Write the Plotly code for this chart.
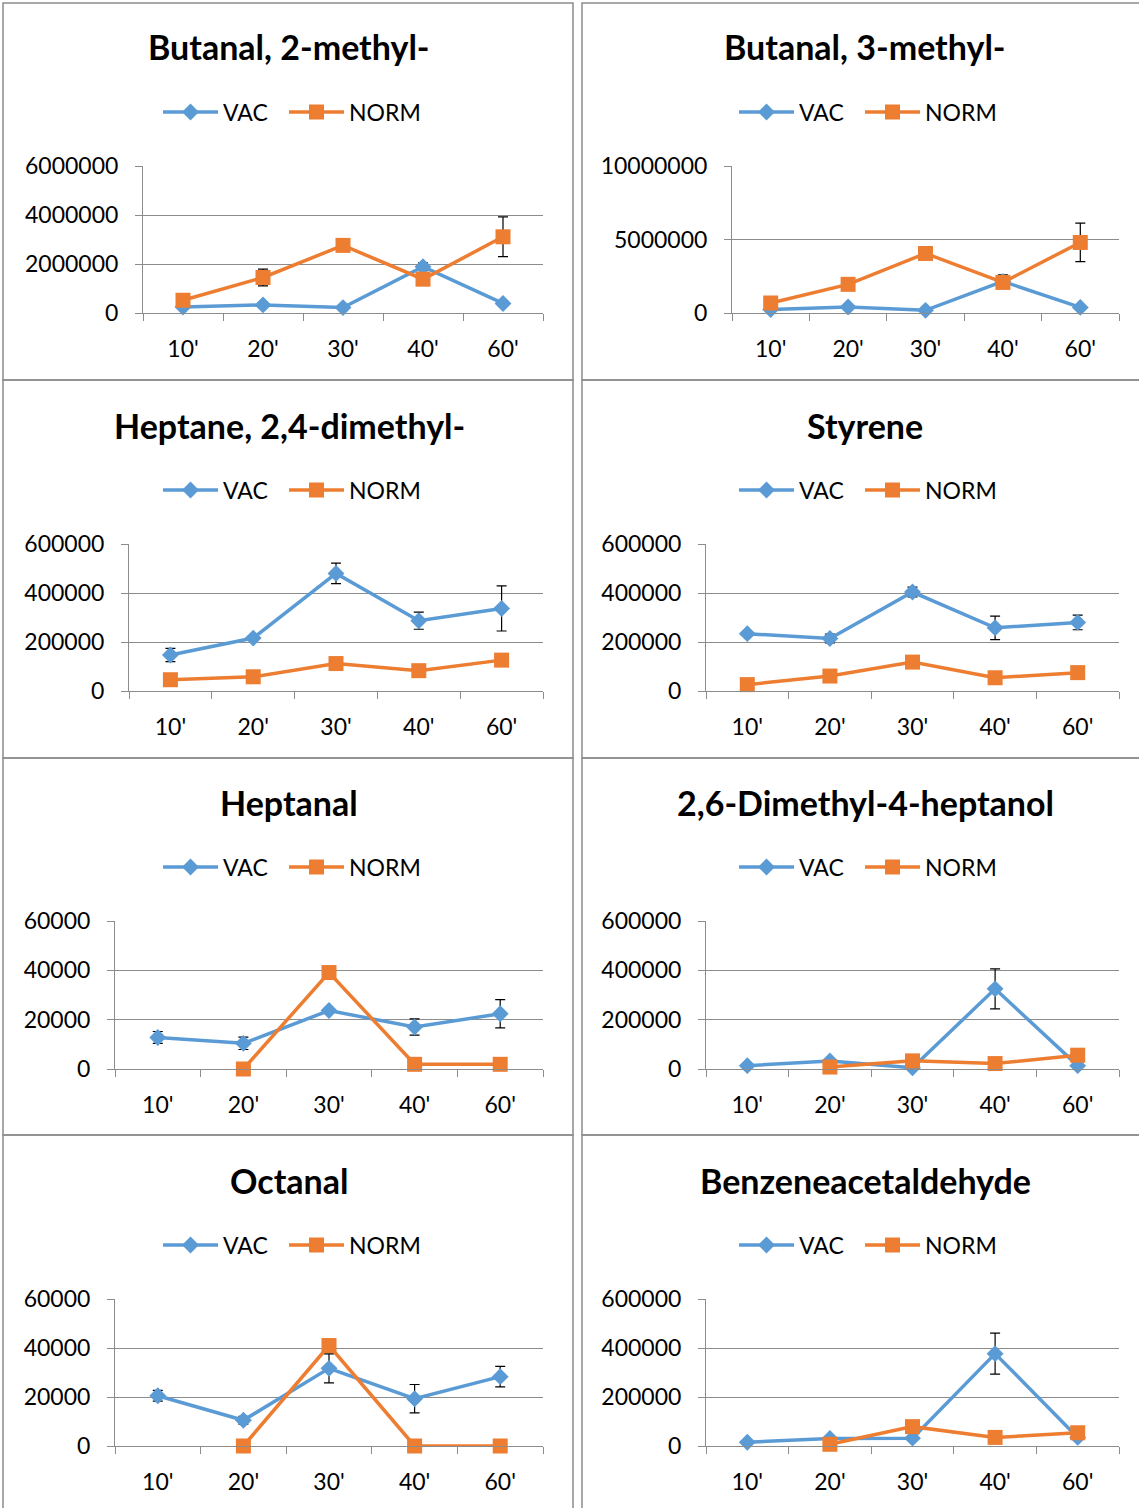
import plotly.graph_objects as go

# Sampling times (minutes)
times = ["10'", "20'", "30'", "40'", "60'"]

# Compound peak areas: mean and standard deviation for each treatment
titles = [
    "Butanal, 2-methyl-", "Butanal, 3-methyl-",
    "Heptane, 2,4-dimethyl-", "Styrene",
    "Heptanal", "2,6-Dimethyl-4-heptanol",
    "Octanal", "Benzeneacetaldehyde",
]

vac_butanal_2m = [240000, 330000, 220000, 1890000, 390000]
vac_butanal_2m_sd = [40000, 40000, 40000, 160000, 60000]
norm_butanal_2m = [520000, 1450000, 2760000, 1380000, 3110000]
norm_butanal_2m_sd = [60000, 340000, 60000, 80000, 810000]

vac_butanal_3m = [230000, 410000, 180000, 2150000, 380000]
vac_butanal_3m_sd = [50000, 60000, 40000, 450000, 60000]
norm_butanal_3m = [680000, 1950000, 4050000, 2080000, 4800000]
norm_butanal_3m_sd = [80000, 120000, 150000, 150000, 1310000]

vac_heptane = [147000, 216000, 480000, 287000, 337000]
vac_heptane_sd = [27000, 8000, 42000, 35000, 92000]
norm_heptane = [46000, 58000, 112000, 83000, 126000]
norm_heptane_sd = [5000, 5000, 8000, 6000, 8000]

vac_styrene = [234000, 214000, 404000, 258000, 280000]
vac_styrene_sd = [6000, 18000, 20000, 48000, 30000]
norm_styrene = [26000, 61000, 118000, 54000, 75000]
norm_styrene_sd = [4000, 6000, 8000, 6000, 8000]

vac_heptanal = [12800, 10400, 23700, 17000, 22400]
vac_heptanal_sd = [2400, 2500, 900, 3300, 5700]
norm_heptanal = [None, 0, 39100, 1900, 1900]
norm_heptanal_sd = [None, 0, 800, 200, 200]

vac_dmh = [13600, 32700, 5000, 325000, 13600]
vac_dmh_sd = [3000, 4000, 2000, 81000, 3000]
norm_dmh = [None, 8000, 33000, 22000, 56000]
norm_dmh_sd = [None, 2000, 4000, 4000, 6000]

vac_octanal = [20500, 10500, 31700, 19300, 28300]
vac_octanal_sd = [2200, 1600, 5900, 5800, 4200]
norm_octanal = [None, 0, 41000, 0, 0]
norm_octanal_sd = [None, 0, 800, 0, 0]

vac_benzac = [15000, 31000, 32000, 377000, 35000]
vac_benzac_sd = [3000, 4000, 4000, 84000, 4000]
norm_benzac = [None, 7000, 79000, 35000, 54000]
norm_benzac_sd = [None, 2000, 6000, 5000, 6000]

vac_series = [vac_butanal_2m, vac_butanal_3m, vac_heptane, vac_styrene,
              vac_heptanal, vac_dmh, vac_octanal, vac_benzac]
vac_sd = [vac_butanal_2m_sd, vac_butanal_3m_sd, vac_heptane_sd, vac_styrene_sd,
          vac_heptanal_sd, vac_dmh_sd, vac_octanal_sd, vac_benzac_sd]
norm_series = [norm_butanal_2m, norm_butanal_3m, norm_heptane, norm_styrene,
               norm_heptanal, norm_dmh, norm_octanal, norm_benzac]
norm_sd = [norm_butanal_2m_sd, norm_butanal_3m_sd, norm_heptane_sd, norm_styrene_sd,
           norm_heptanal_sd, norm_dmh_sd, norm_octanal_sd, norm_benzac_sd]

y_max = [6000000, 10000000, 600000, 600000, 60000, 600000, 60000, 600000]
y_step = [2000000, 5000000, 200000, 200000, 20000, 200000, 20000, 200000]

# ---- page layout (pixels) ----
W, H = 1139, 1508
BLUE = "#5B9BD5"
ORANGE = "#ED7D31"
GRAY = "#8C8C8C"
FONT = "Lato"

plot_x = [(143, 543), (732, 1119), (129, 543), (706, 1119),
          (115, 543), (706, 1119), (115, 543), (706, 1119)]
row_plot_y = [(166, 313), (544, 691), (921, 1069), (1299, 1446)]
row_title_y = [47, 425, 803, 1180]
row_legend_y = [112, 490, 867, 1245]
col_center = [289, 865]
col_legend_center = [292, 868]
box_x = [(3, 573), (582, 1160)]
box_y = [(3, 380), (380, 758), (758, 1135), (1135, 1512)]


def fx(p):
    return p / W


def fy(p):
    return 1 - p / H


fig = go.Figure()
layout = dict(
    width=W, height=H,
    margin=dict(l=0, r=0, t=0, b=0, autoexpand=False),
    paper_bgcolor="white", plot_bgcolor="white",
    font=dict(family=FONT, size=23, color="black"),
    shapes=[], annotations=[],
)

for i in range(8):
    n = i + 1
    row, col = divmod(i, 2)
    suffix = "" if n == 1 else str(n)
    legend_name = "legend" + suffix

    fig.add_trace(go.Scatter(
        x=times, y=vac_series[i], name="VAC", mode="lines+markers",
        line=dict(color=BLUE, width=3.5),
        marker=dict(symbol="diamond", size=13, color=BLUE),
        error_y=dict(type="data", array=vac_sd[i], color="black", thickness=1.2, width=5),
        xaxis="x" + suffix, yaxis="y" + suffix, legend=legend_name,
        legendwidth=56, connectgaps=False, cliponaxis=False,
    ))
    fig.add_trace(go.Scatter(
        x=times, y=norm_series[i], name="NORM", mode="lines+markers",
        line=dict(color=ORANGE, width=3.5),
        marker=dict(symbol="square", size=15, color=ORANGE),
        error_y=dict(type="data", array=norm_sd[i], color="black", thickness=1.2, width=5),
        xaxis="x" + suffix, yaxis="y" + suffix, legend=legend_name,
        connectgaps=False, cliponaxis=False,
    ))

    x0, x1 = plot_x[i]
    top, bottom = row_plot_y[row]
    layout["xaxis" + suffix] = dict(
        domain=[fx(x0), fx(x1)], anchor="y" + suffix,
        type="category", range=[-0.5, 4.5], fixedrange=True,
        tickson="boundaries", ticks="outside", ticklen=7, tickcolor=GRAY, tickwidth=1,
        showline=True, linecolor=GRAY, linewidth=1, showgrid=False,
        tickfont=dict(family=FONT, size=23, color="black"), ticklabelstandoff=15,
    )
    layout["yaxis" + suffix] = dict(
        domain=[fy(bottom), fy(top)], anchor="x" + suffix,
        range=[0, y_max[i]], dtick=y_step[i], tick0=0, tickformat="d",
        fixedrange=True, showgrid=True, gridcolor=GRAY, gridwidth=1,
        zeroline=False, showline=True, linecolor=GRAY, linewidth=1,
        ticks="outside", ticklen=7, tickcolor=GRAY, tickwidth=1,
        tickfont=dict(family=FONT, size=23, color="black"), ticklabelstandoff=12,
    )
    layout[legend_name] = dict(
        orientation="h", x=fx(col_legend_center[col]), xanchor="center",
        y=fy(row_legend_y[row]), yanchor="middle",
        bgcolor="rgba(0,0,0,0)", font=dict(family=FONT, size=23, color="black"),
        itemwidth=55, tracegroupgap=0,
    )
    layout["annotations"].append(dict(
        text=titles[i], xref="paper", yref="paper",
        x=fx(col_center[col]), y=fy(row_title_y[row]),
        xanchor="center", yanchor="middle", showarrow=False,
        font=dict(family=FONT, size=34, color="black", weight="bold"),
    ))

# Frames around each chart
for (bx0, bx1) in box_x:
    for (by0, by1) in box_y:
        layout["shapes"].append(dict(
            type="rect", xref="paper", yref="paper",
            x0=fx(bx0), x1=fx(bx1), y0=fy(by1), y1=fy(by0),
            line=dict(color=GRAY, width=1.5), fillcolor="rgba(0,0,0,0)",
        ))

fig.update_layout(**layout)
fig.write_html("out.html")
